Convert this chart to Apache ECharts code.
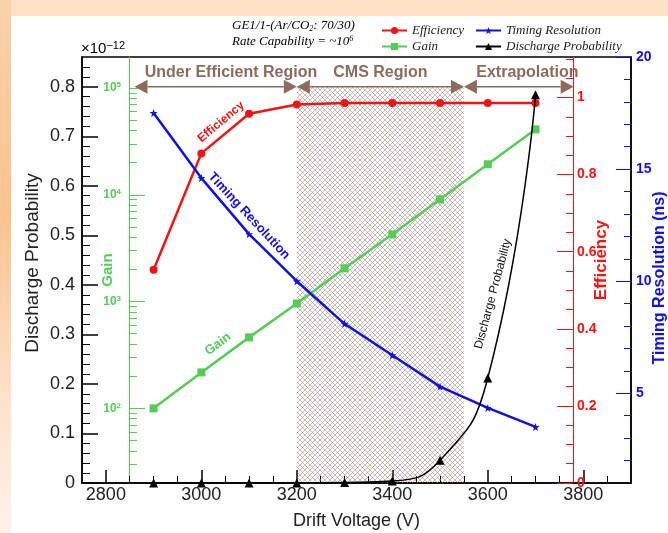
<!DOCTYPE html>
<html>
<head>
<meta charset="utf-8">
<script src="https://cdn.jsdelivr.net/npm/echarts@6/dist/echarts.min.js"></script>
<style>
  html, body { margin: 0; padding: 0; }
  body {
    width: 668px; height: 533px; position: relative; overflow: hidden;
    background: linear-gradient(to bottom, #fbd2ab 0%, #fbc38e 40%, #fde2cd 75%, #fff1e8 100%);
  }
  #topband { position: absolute; left: 11px; top: 0; right: 0; height: 16px; background: #fde1c5; }
  #paper { position: absolute; left: 11px; top: 16px; right: 0; bottom: 0; background: #fff; }
  #chart { position: absolute; left: 0; top: 0; width: 668px; height: 533px; }
</style>
</head>
<body>
<div id="topband"></div>
<div id="paper"></div>
<div id="chart"></div>
<script>
// Drift voltage scan points (V)
const voltage = [2900, 3000, 3100, 3200, 3300, 3400, 3500, 3600, 3700];
const efficiency = [0.553, 0.855, 0.958, 0.982, 0.986, 0.986, 0.986, 0.986, 0.986];
const gain = [100, 217, 462, 960, 2050, 4260, 9060, 19300, 41000];
const timingRes = [17.5, 14.6, 12.1, 10.0, 8.1, 6.7, 5.3, 4.35, 3.5];        // ns
const dischargeProb = [0, 0, 0, 0, 0.001, 0.004, 0.046, 0.212, 0.784];     // x 1e-12

// axis ticks
const voltageTicks = [2800, 3000, 3200, 3400, 3600, 3800];
const dischargeTicks = [0, 0.1, 0.2, 0.3, 0.4, 0.5, 0.6, 0.7, 0.8];
const gainTicks = [100, 1000, 10000, 100000];
const effTicks = [0, 0.2, 0.4, 0.6, 0.8, 1];
const timingTicks = [5, 10, 15, 20];

// region annotations
const regionFrom = [2860, 3200, 3550];
const regionTo = [3200, 3550, 3780];
const regionLabelAt = [3062, 3375, 3683];
const regionNames = ['Under Efficient Region', 'CMS Region', 'Extrapolation'];
const regionLevel = 0.8;      // on the discharge axis
const cmsBand = [3200, 3550];

const RED = '#f21414', GREEN = '#55cc55', BLUE = '#1010e6', BROWN = '#8c6b5c';
const SANS = 'Liberation Sans', SERIF = 'Liberation Serif';

// minor tick helpers (axis decoration only)
function minorSteps(from, to, step, skipEvery) {
  const out = [];
  for (let i = 1; from + i * step < to - 1e-9; i++) {
    if (i % skipEvery !== 0) out.push(+(from + i * step).toFixed(4));
  }
  return out;
}
const voltageMinor = minorSteps(2750, 3900, 50, 100).filter(v => v % 200 !== 0);
const dischargeMinor = minorSteps(0, 0.86, 0.02, 5);
const effMinor = minorSteps(0, 1.105, 0.05, 4);
const timingMinor = minorSteps(0, 20, 1, 5).filter(v => v > 1);
const gainMinor = [];
[10, 100, 1000, 10000, 100000].forEach(d => {
  for (let k = 2; k <= 9; k++) if (k * d > 20 && k * d < 195000) gainMinor.push(k * d);
});

// cross hatch pattern for CMS band
const hatch = document.createElement('canvas');
hatch.width = 5; hatch.height = 5;
const hctx = hatch.getContext('2d');
hctx.strokeStyle = 'rgba(140,110,98,0.65)';
hctx.lineWidth = 0.7;
hctx.beginPath();
hctx.moveTo(-1, -1); hctx.lineTo(6, 6);
hctx.moveTo(-1, 6); hctx.lineTo(6, -1);
hctx.stroke();

const starPath = 'path://M0,-10 L2.4,-3.1 9.5,-3.1 3.8,1.2 5.9,8.1 0,4 -5.9,8.1 -3.8,1.2 -9.5,-3.1 -2.4,-3.1Z';

function minorAxis(base, values, len, color) {
  return Object.assign({}, base, {
    name: '',
    axisLine: { show: false },
    axisLabel: { show: false },
    splitLine: { show: false },
    axisTick: { show: true, inside: true, length: len, customValues: values, lineStyle: { color: color, width: 1 } }
  });
}

const supRich = {
  b: { fontFamily: SANS, fontWeight: 'bold', fontSize: 12, color: GREEN },
  s: { fontFamily: SANS, fontWeight: 'bold', fontSize: 8, color: GREEN, verticalAlign: 'top', padding: [0, 0, 6, 0] }
};

const xBase = { type: 'value', min: 2750, max: 3900, position: 'bottom' };
const discBase = { type: 'value', min: 0, max: 0.86, position: 'left' };
const gainBase = { type: 'log', logBase: 10, min: 20, max: 195000, position: 'left', offset: -47 };
const effBase = { type: 'value', min: 0, max: 1.105, position: 'right', offset: -58 };
const timBase = { type: 'value', min: 1, max: 20, position: 'right', offset: 0 };

const chart = echarts.init(document.getElementById('chart'));

const option = {
  backgroundColor: 'transparent',
  animation: false,
  grid: {
    left: 82, right: 37, top: 57, bottom: 50, outerBoundsMode: 'none', containLabel: false,
    show: true, borderColor: '#000', borderWidth: 1.5, backgroundColor: 'transparent'
  },
  legend: [
    {
      data: ['Efficiency', 'Gain'], orient: 'vertical', left: 376, top: 19,
      itemWidth: 25, itemHeight: 9, itemGap: 3, selectedMode: false,
      textStyle: { fontFamily: SERIF, fontStyle: 'italic', fontSize: 13, color: '#222' }
    },
    {
      data: ['Timing Resolution', 'Discharge Probability'], orient: 'vertical', left: 470, top: 19,
      itemWidth: 25, itemHeight: 9, itemGap: 3, selectedMode: false,
      textStyle: { fontFamily: SERIF, fontStyle: 'italic', fontSize: 13, color: '#222' }
    }
  ],
  xAxis: [
    Object.assign({}, xBase, {
      name: 'Drift Voltage (V)', nameLocation: 'middle', nameGap: 29, nameMoveOverlap: false,
      nameTextStyle: { fontFamily: SANS, fontSize: 18, color: '#222' },
      axisLine: { show: true, lineStyle: { color: '#000', width: 1.5 } },
      axisTick: { inside: true, length: 13, customValues: voltageTicks, lineStyle: { color: '#000', width: 1.5 } },
      axisLabel: { customValues: voltageTicks, formatter: v => String(v), fontFamily: SANS, fontSize: 18, color: '#222', margin: 3 },
      splitLine: { show: false }
    }),
    minorAxis(xBase, voltageMinor, 7, '#000')
  ],
  yAxis: [
    // 0: discharge probability
    Object.assign({}, discBase, {
      name: 'Discharge Probability', nameLocation: 'middle', nameGap: 40, nameMoveOverlap: false,
      nameTextStyle: { fontFamily: SANS, fontSize: 19, color: '#222', padding: [0, 0, 0, 14] },
      axisLine: { show: true, lineStyle: { color: '#000', width: 1.5 } },
      axisTick: { inside: true, length: 16, customValues: dischargeTicks, lineStyle: { color: '#000', width: 1.5 } },
      axisLabel: { customValues: dischargeTicks, formatter: v => String(v), fontFamily: SANS, fontSize: 18, color: '#222', margin: 7 },
      splitLine: { show: false }
    }),
    minorAxis(discBase, dischargeMinor, 8, '#000'),
    // 2: gain (log)
    Object.assign({}, gainBase, {
      axisLine: { show: true, lineStyle: { color: GREEN, width: 1 } },
      axisTick: { inside: true, length: 16, customValues: gainTicks, lineStyle: { color: GREEN, width: 1 } },
      axisLabel: {
        customValues: gainTicks, margin: 8,
        formatter: v => '{b|10}{s|' + Math.round(Math.log10(v)) + '}',
        rich: supRich
      },
      splitLine: { show: false }
    }),
    minorAxis(gainBase, gainMinor, 8, GREEN),
    // 4: efficiency
    Object.assign({}, effBase, {
      name: 'Efficiency', nameLocation: 'middle', nameGap: 20, nameMoveOverlap: false,
      nameTextStyle: { fontFamily: SANS, fontSize: 17, fontWeight: 'bold', color: RED, padding: [0, 0, 0, 20] },
      axisLine: { show: true, lineStyle: { color: RED, width: 1 } },
      axisTick: { inside: true, length: 16, customValues: effTicks, lineStyle: { color: RED, width: 1 } },
      axisLabel: { customValues: effTicks, formatter: v => String(v), fontFamily: SANS, fontSize: 14, fontWeight: 'bold', color: RED, margin: 4 },
      splitLine: { show: false }
    }),
    minorAxis(effBase, effMinor, 7, RED),
    // 6: timing resolution
    Object.assign({}, timBase, {
      name: 'Timing Resolution (ns)', nameLocation: 'middle', nameGap: 21, nameMoveOverlap: false,
      nameTextStyle: { fontFamily: SANS, fontSize: 16, fontWeight: 'bold', color: BLUE, padding: [0, 16, 0, 0] },
      axisLine: { show: true, lineStyle: { color: '#000', width: 1.5 } },
      axisTick: { inside: true, length: 15, customValues: timingTicks, lineStyle: { color: BLUE, width: 1 } },
      axisLabel: { customValues: timingTicks, formatter: v => String(v), fontFamily: SANS, fontSize: 14, fontWeight: 'bold', color: BLUE, margin: 5 },
      splitLine: { show: false }
    }),
    minorAxis(timBase, timingMinor, 7, BLUE)
  ],
  graphic: [
    {
      type: 'text', left: 232, top: 19, z: 10,
      style: {
        text: '{a|GE1/1-(Ar/CO}{s|2}{a|: 70/30)}',
        rich: {
          a: { fontFamily: SERIF, fontStyle: 'italic', fontSize: 13, color: '#222' },
          s: { fontFamily: SERIF, fontStyle: 'italic', fontSize: 8, color: '#222', verticalAlign: 'bottom', padding: [6, 0, 0, 0] }
        }
      }
    },
    {
      type: 'text', left: 232, top: 35, z: 10,
      style: {
        text: '{a|Rate Capability = ~10}{s|6}',
        rich: {
          a: { fontFamily: SERIF, fontStyle: 'italic', fontSize: 13, color: '#222' },
          s: { fontFamily: SERIF, fontStyle: 'italic', fontSize: 8, color: '#222', verticalAlign: 'top', padding: [0, 0, 6, 0] }
        }
      }
    },
    {
      type: 'text', left: 81, top: 40, z: 10,
      style: {
        text: '{a|\u00d710}{s|\u221212}',
        rich: {
          a: { fontFamily: SANS, fontSize: 15, color: '#222' },
          s: { fontFamily: SANS, fontSize: 11, color: '#222', verticalAlign: 'top', padding: [0, 0, 6, 0] }
        }
      }
    },
    {
      type: 'text', x: 108, y: 270, rotation: Math.PI / 2, z: 10,
      style: { text: 'Gain', fill: GREEN, font: 'bold 15px ' + SANS, align: 'center', verticalAlign: 'middle' }
    },
    {
      type: 'text', x: 221, y: 122, rotation: 40 * Math.PI / 180, z: 10,
      style: { text: 'Efficiency', fill: RED, font: 'bold 12px ' + SANS, align: 'center', verticalAlign: 'middle' }
    },
    {
      type: 'text', x: 249, y: 216, rotation: -47 * Math.PI / 180, z: 10,
      style: { text: 'Timing Resolution', fill: BLUE, font: 'bold 13px ' + SANS, align: 'center', verticalAlign: 'middle' }
    },
    {
      type: 'text', x: 218, y: 344, rotation: 36 * Math.PI / 180, z: 10,
      style: { text: 'Gain', fill: GREEN, font: 'bold 13px ' + SANS, align: 'center', verticalAlign: 'middle' }
    },
    {
      type: 'text', x: 493, y: 294, rotation: 75 * Math.PI / 180, z: 10,
      style: { text: 'Discharge Probability', fill: '#111', font: '12px ' + SANS, align: 'center', verticalAlign: 'middle' }
    }
  ],
  series: [
    {
      name: 'cms-band', type: 'custom', yAxisIndex: 0, z: 1, silent: true,
      data: [[cmsBand[0], cmsBand[1], regionLevel]],
      renderItem: (params, api) => {
        const p0 = api.coord([api.value(0), 0]);
        const p1 = api.coord([api.value(1), api.value(2)]);
        return {
          type: 'rect',
          shape: { x: p0[0], y: p1[1], width: p1[0] - p0[0], height: p0[1] - p1[1] },
          style: { fill: { image: hatch, repeat: 'repeat' }, stroke: null }
        };
      }
    },
    {
      name: 'regions', type: 'custom', yAxisIndex: 0, z: 4, silent: true, clip: false,
      data: regionFrom.map((v, i) => [v, regionTo[i], regionLabelAt[i], regionLevel, regionNames[i]]),
      renderItem: (params, api) => {
        const a = api.coord([api.value(0), api.value(3)]);
        const b = api.coord([api.value(1), api.value(3)]);
        const c = api.coord([api.value(2), api.value(3)]);
        const L = 13, H = 7;
        return {
          type: 'group',
          children: [
            { type: 'line', shape: { x1: a[0] + L, y1: a[1], x2: b[0] - L, y2: b[1] }, style: { stroke: BROWN, lineWidth: 1.5 } },
            { type: 'polygon', shape: { points: [[a[0], a[1]], [a[0] + L, a[1] - H], [a[0] + L, a[1] + H]] }, style: { fill: BROWN } },
            { type: 'polygon', shape: { points: [[b[0], b[1]], [b[0] - L, b[1] - H], [b[0] - L, b[1] + H]] }, style: { fill: BROWN } },
            {
              type: 'text', x: c[0], y: a[1] - 14,
              style: { text: api.value(4), fill: BROWN, font: 'bold 16px ' + SANS, align: 'center', verticalAlign: 'middle' }
            }
          ]
        };
      }
    },
    {
      name: 'Efficiency', type: 'line', yAxisIndex: 4, z: 5, clip: false,
      data: voltage.map((v, i) => [v, efficiency[i]]),
      symbol: 'circle', symbolSize: 8,
      itemStyle: { color: RED }, lineStyle: { color: RED, width: 2.5 }
    },
    {
      name: 'Gain', type: 'line', yAxisIndex: 2, z: 5, clip: false,
      data: voltage.map((v, i) => [v, gain[i]]),
      symbol: 'rect', symbolSize: 8,
      itemStyle: { color: GREEN }, lineStyle: { color: GREEN, width: 2.5 }
    },
    {
      name: 'Timing Resolution', type: 'line', yAxisIndex: 6, z: 5, clip: false,
      data: voltage.map((v, i) => [v, timingRes[i]]),
      symbol: starPath, symbolSize: 8,
      itemStyle: { color: BLUE }, lineStyle: { color: BLUE, width: 2.5 }
    },
    {
      name: 'Discharge Probability', type: 'line', yAxisIndex: 0, z: 6, clip: false,
      data: voltage.map((v, i) => [v, dischargeProb[i]]),
      smooth: 0.5,
      symbol: 'triangle', symbolSize: 9,
      itemStyle: { color: '#000' }, lineStyle: { color: '#000', width: 1.5 }
    }
  ]
};

chart.setOption(option);
</script>
</body>
</html>
